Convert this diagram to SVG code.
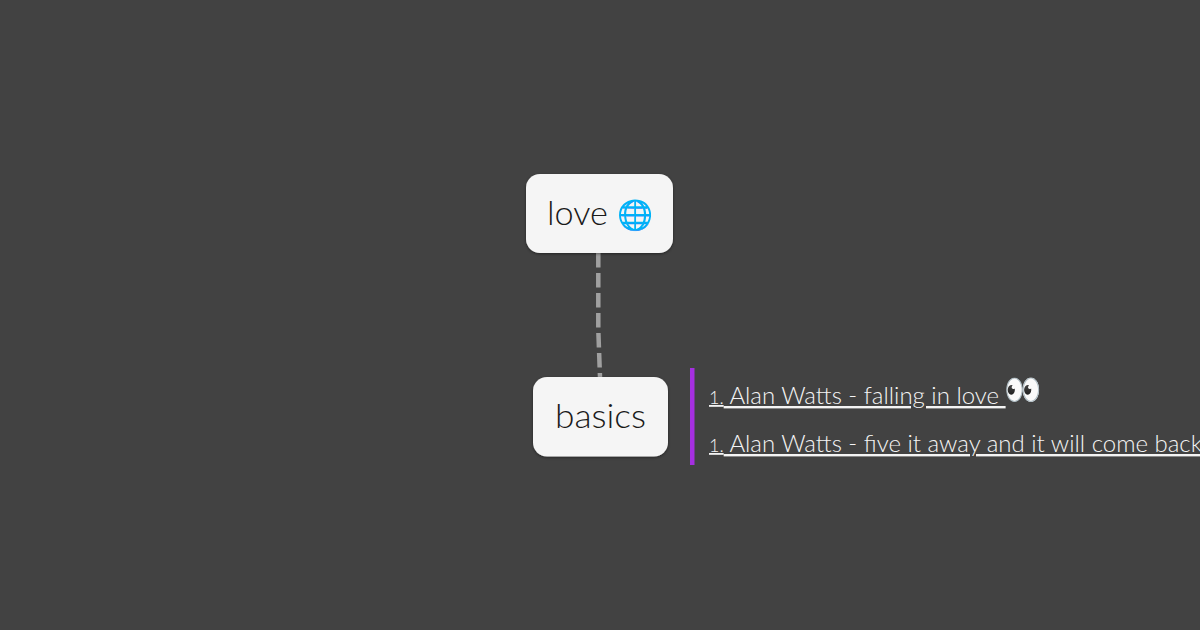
<svg xmlns="http://www.w3.org/2000/svg" width="1200" height="630" viewBox="0 0 1200 630">
<style>
text{font-family:"Lato","Noto Sans",sans-serif}
.node{fill:#f5f5f5;filter:url(#sh)}
.t{fill:#1a1a1a;font-weight:300}
.l{fill:#f4f4f4;font-size:24px;font-weight:300;text-decoration:underline}
.n{font-size:18px}
</style>
<defs><filter id="sh" x="-20%" y="-20%" width="140%" height="140%"><feDropShadow dx="0" dy="1" stdDeviation="1.5" flood-color="#000" flood-opacity="0.45"/></filter></defs>
<rect width="1200" height="630" fill="#424242"/>
<g id="connectors"><path d="M598.300 253L598.300 330L600 377" fill="none" stroke="#a0a0a0" stroke-width="4.500" stroke-dasharray="14.500 5.500"/></g>
<g id="node-love"><rect class="node" x="526" y="174" width="147" height="79" rx="14"/><text class="t" x="547" y="225" font-size="33" textLength="61" lengthAdjust="spacingAndGlyphs">love</text><text x="616.500" y="225" font-size="29">🌐</text></g>
<g id="node-basics"><rect class="node" x="533" y="377" width="135" height="79.500" rx="14"/><text class="t" x="555" y="428" font-size="34" textLength="91" lengthAdjust="spacingAndGlyphs">basics</text></g>
<g id="node-notes"><rect x="690" y="368" width="4.500" height="97" fill="#a52fe0"/>
<text class="l" x="709" y="404"><tspan class="n">1.</tspan> Alan Watts - falling in love&#160;</text><text x="1004" y="400" font-size="30">👀</text>
<text class="l" x="709" y="452"><tspan class="n">1.</tspan> Alan Watts - five it away and it will come back</text></g>
</svg>
